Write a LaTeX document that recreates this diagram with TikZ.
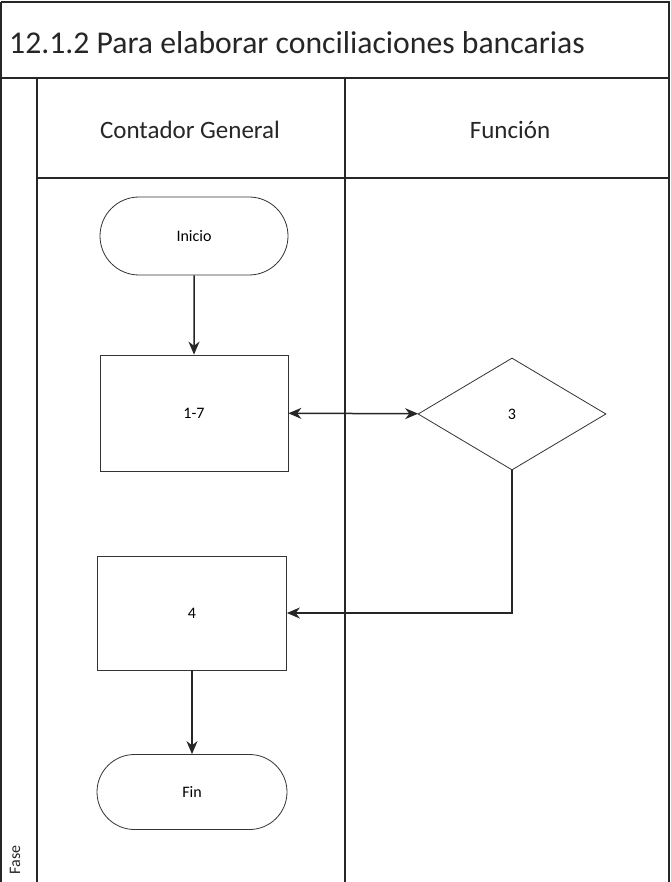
\documentclass[tikz,border=0pt]{standalone}
\usepackage{fontspec}
\setmainfont{Carlito}
\usetikzlibrary{shapes.geometric,shapes.misc,arrows.meta}
\begin{document}
\begin{tikzpicture}[x=1pt,y=-1pt,
  frame/.style={draw=black!85,line width=1.1pt},
  shp/.style={draw=black!80,line width=0.8pt,font=\fontsize{16}{18}\selectfont,inner sep=0pt},
  term/.style={shp,rounded rectangle,minimum width=188pt,minimum height=78pt},
  proc/.style={shp,rectangle,minimum width=188pt,minimum height=116pt},
  dec/.style={shp,diamond,minimum width=188pt,minimum height=112pt},
  arr/.style={draw=black!85,line width=1.5pt,-{Stealth[length=13pt,width=11pt]}},
  arrb/.style={draw=black!85,line width=1.5pt,{Stealth[length=13pt,width=11pt]}-{Stealth[length=13pt,width=11pt]}},
  head/.style={font=\fontsize{25}{28}\selectfont,text=black!85}
]
\useasboundingbox (0,0) rectangle (670,882);
\fill[white] (0,0) rectangle (670,882);
% frame
\draw[frame] (1,2) -- (669,2) -- (669,882);
\draw[frame] (1,2) -- (1,882);
\draw[frame] (1,78) -- (669,78);
\draw[frame] (37,78) -- (37,882);
\draw[frame] (37,178) -- (669,178);
\draw[frame] (345,78) -- (345,882);
% texts
\node[anchor=west,inner sep=0pt,text=black!85,font=\fontsize{31.7}{34}\selectfont] (title) at (9,43) {12.1.2 Para elaborar conciliaciones bancarias};
\node[head] (h1) at (190,130) {Contador General};
\node[head] (h2) at (510,130) {Función};
\node[rotate=90,font=\fontsize{16}{18}\selectfont,text=black!85,inner sep=0pt] (fase) at (15,860) {Fase};
% shapes
\node[term] (ini) at (194,236) {Inicio};
\node[proc] (b17) at (194,413) {1-7};
\node[dec] (d3) at (512,414) {3};
\node[proc,minimum height=114pt,minimum width=189pt] (b4) at (192,613) {4};
\node[term,minimum height=75pt,minimum width=190pt] (fin) at (192,792) {Fin};
% connectors
\draw[arr] (ini) -- (b17);
\draw[arrb] (b17) -- (d3);
\draw[arr] (d3.south) |- (b4.east);
\draw[arr] (b4) -- (fin);
\end{tikzpicture}
\end{document}
